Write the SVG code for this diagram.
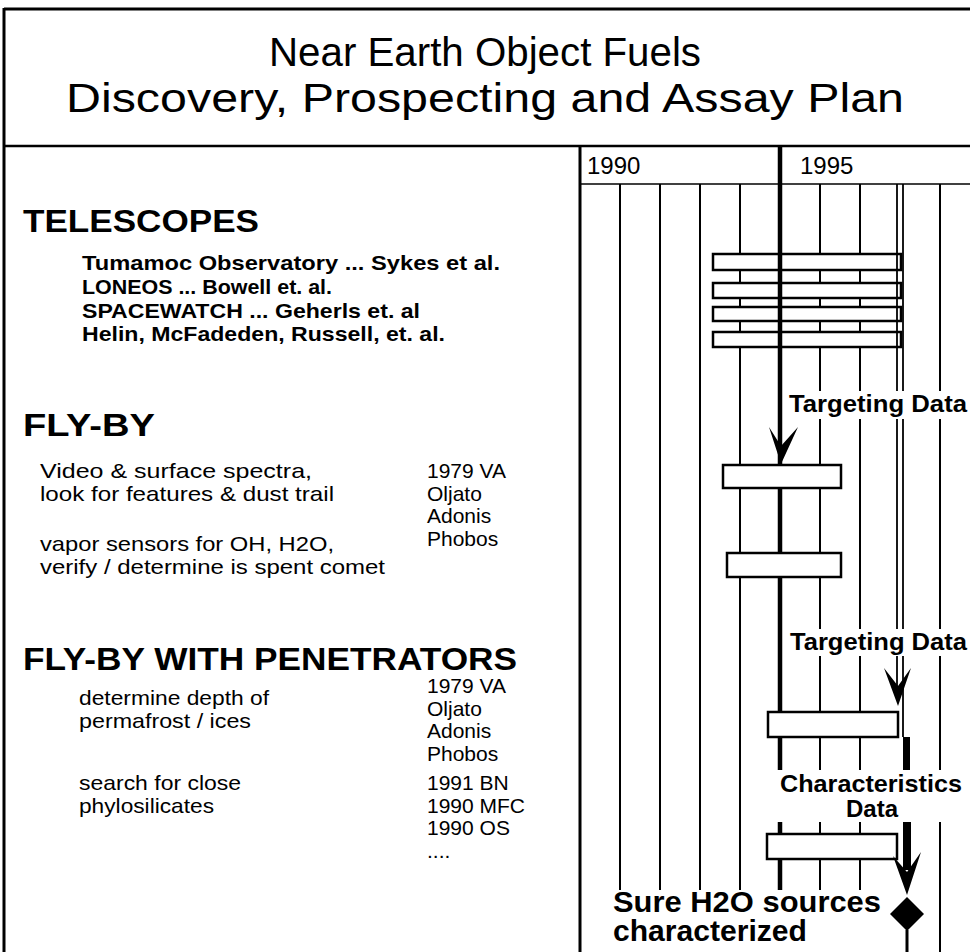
<svg xmlns="http://www.w3.org/2000/svg" width="970" height="952" viewBox="0 0 970 952">
<style>
text{font-family:"Liberation Sans",Arial,Helvetica,sans-serif;fill:#000}
.title{font-size:41px}
.yr{font-size:24px}
.hd{font-size:32px;font-weight:bold}
.tel{font-size:21px;font-weight:bold}
.body{font-size:21px}
.lbl{font-size:24px;font-weight:bold}
.big{font-size:29px;font-weight:bold}
.frame{stroke:#000;fill:none}
.grid{stroke:#000;stroke-width:2}
.bar{fill:#fff;stroke:#000;stroke-width:2.5}
.bg{fill:#fff}
.head{fill:#000}
</style>
<rect width="970" height="952" fill="#fff"/>
<g id="frame">
<line class="frame" x1="4" y1="9" x2="970" y2="9" stroke-width="3"/>
<line class="frame" x1="4" y1="8" x2="4" y2="952" stroke-width="3"/>
<line class="frame" x1="4" y1="146" x2="970" y2="146" stroke-width="2.5"/>
<line class="frame" x1="580" y1="146" x2="580" y2="952" stroke-width="3"/>
<line class="frame" x1="580" y1="184" x2="970" y2="184" stroke-width="1.5"/>
</g>
<g id="title">
<text class="title" x="269" y="66" textLength="432" lengthAdjust="spacingAndGlyphs">Near Earth Object Fuels</text>
<text class="title" x="66" y="112" textLength="838" lengthAdjust="spacingAndGlyphs">Discovery, Prospecting and Assay Plan</text>
</g>
<g id="years">
<text class="yr" x="587" y="174">1990</text>
<text class="yr" x="800" y="174">1995</text>
</g>
<g id="telescopes">
<text class="hd" x="23" y="232" textLength="236" lengthAdjust="spacingAndGlyphs">TELESCOPES</text>
<text class="tel" x="82" y="270" textLength="418" lengthAdjust="spacingAndGlyphs">Tumamoc Observatory  ... Sykes et al.</text>
<text class="tel" x="82" y="294" textLength="250" lengthAdjust="spacingAndGlyphs">LONEOS ... Bowell et. al.</text>
<text class="tel" x="82" y="317.5" textLength="338" lengthAdjust="spacingAndGlyphs">SPACEWATCH ... Geherls et. al</text>
<text class="tel" x="82" y="341" textLength="363" lengthAdjust="spacingAndGlyphs">Helin, McFadeden, Russell,  et. al.</text>
</g>
<g id="flyby">
<text class="hd" x="23" y="436" textLength="132" lengthAdjust="spacingAndGlyphs">FLY-BY</text>
<text class="body" x="40" y="478" textLength="272" lengthAdjust="spacingAndGlyphs">Video &amp; surface spectra,</text>
<text class="body" x="40" y="500.5" textLength="294" lengthAdjust="spacingAndGlyphs">look for features &amp; dust trail</text>
<text class="body" x="40" y="551" textLength="294" lengthAdjust="spacingAndGlyphs">vapor sensors for OH, H2O,</text>
<text class="body" x="40" y="574" textLength="345" lengthAdjust="spacingAndGlyphs">verify / determine is spent comet</text>
<text class="body" x="427" y="478">1979 VA</text>
<text class="body" x="427" y="500.5">Oljato</text>
<text class="body" x="427" y="523">Adonis</text>
<text class="body" x="427" y="545.5">Phobos</text>
</g>
<g id="penetrators">
<text class="hd" x="23" y="670" textLength="494" lengthAdjust="spacingAndGlyphs">FLY-BY WITH PENETRATORS</text>
<text class="body" x="79" y="705" textLength="190" lengthAdjust="spacingAndGlyphs">determine depth of</text>
<text class="body" x="79" y="728" textLength="172" lengthAdjust="spacingAndGlyphs">permafrost /  ices</text>
<text class="body" x="79" y="790" textLength="162" lengthAdjust="spacingAndGlyphs">search for close</text>
<text class="body" x="79" y="813" textLength="135" lengthAdjust="spacingAndGlyphs">phylosilicates</text>
<text class="body" x="427" y="693">1979 VA</text>
<text class="body" x="427" y="715.5">Oljato</text>
<text class="body" x="427" y="738">Adonis</text>
<text class="body" x="427" y="760.5">Phobos</text>
<text class="body" x="427" y="790">1991 BN</text>
<text class="body" x="427" y="812.5">1990 MFC</text>
<text class="body" x="427" y="835">1990 OS</text>
<text class="body" x="427" y="858">....</text>
</g>
<g id="connectors">
<g id="gridlines">
<line class="grid" x1="620" y1="184" x2="620" y2="890"/>
<line class="grid" x1="660" y1="184" x2="660" y2="890"/>
<line class="grid" x1="700" y1="184" x2="700" y2="890"/>
<line class="grid" x1="740" y1="184" x2="740" y2="890"/>
<line class="grid" x1="820" y1="184" x2="820" y2="890"/>
<line class="grid" x1="860" y1="184" x2="860" y2="890"/>
<line class="grid" x1="940" y1="184" x2="940" y2="952"/>
</g>
<g id="telescope-bars">
<rect class="bar" x="713" y="254" width="188" height="16"/>
<rect class="bar" x="713" y="283" width="188" height="15"/>
<rect class="bar" x="713" y="307" width="188" height="14"/>
<rect class="bar" x="713" y="332" width="188" height="15"/>
</g>
<line x1="780" y1="146" x2="780" y2="890" stroke="#000" stroke-width="4.5"/>
<line x1="897" y1="184" x2="897" y2="700" stroke="#000" stroke-width="1.8"/>
<line x1="903" y1="184" x2="903" y2="737" stroke="#000" stroke-width="1.8"/>
<rect x="903" y="737" width="7" height="33" fill="#000"/>
<g id="flyby-bars">
<rect class="bar" x="723" y="465" width="118" height="23"/>
<rect class="bar" x="727" y="553" width="114" height="24"/>
</g>
<g id="penetrator-bars">
<rect class="bar" x="768" y="712" width="130" height="25"/>
<rect class="bar" x="767" y="834" width="130" height="25"/>
</g>
</g>
<g id="targeting1">
<rect class="bg" x="785" y="391" width="185" height="28"/>
<text class="lbl" x="789" y="412" textLength="178" lengthAdjust="spacingAndGlyphs">Targeting Data</text>
<polygon class="head" points="769,427 781,464 798,427 781,446"/>
</g>
<g id="targeting2">
<rect class="bg" x="785" y="629" width="185" height="27"/>
<text class="lbl" x="790" y="650" textLength="177" lengthAdjust="spacingAndGlyphs">Targeting Data</text>
<polygon class="head" points="884,668 898,706 911,668 898,686"/>
</g>
<g id="characteristics">
<rect class="bg" x="777" y="770" width="193" height="52"/>
<text class="lbl" x="780" y="792" textLength="182" lengthAdjust="spacingAndGlyphs">Characteristics</text>
<text class="lbl" x="872" y="817" text-anchor="middle">Data</text>
<rect x="903" y="822" width="8" height="48" fill="#000"/>
<polygon class="head" points="893,856 907,895 921,852 907,872"/>
</g>
<g id="milestone">
<rect class="bg" x="608" y="890" width="278" height="62"/>
<text class="big" x="613" y="912" textLength="268" lengthAdjust="spacingAndGlyphs">Sure H2O sources</text>
<text class="big" x="613" y="941" textLength="194" lengthAdjust="spacingAndGlyphs">characterized</text>
<polygon class="head" points="907,897 924,914 907,931 890,914"/>
<line x1="907" y1="930" x2="907" y2="952" stroke="#000" stroke-width="3"/>
</g>
</svg>
